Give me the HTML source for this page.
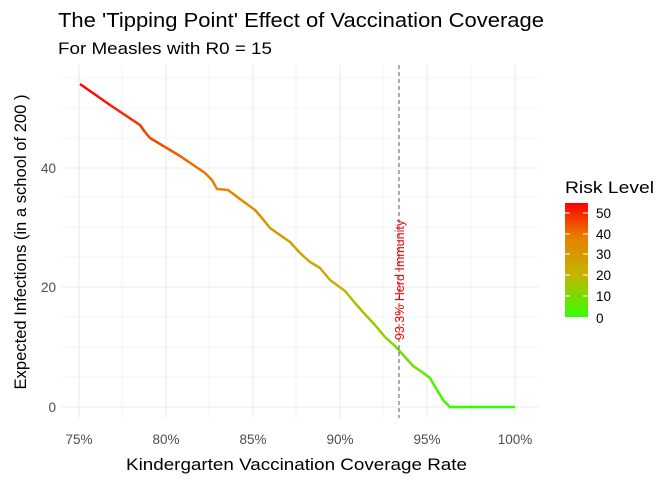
<!DOCTYPE html>
<html><head><style>body{margin:0;background:#fff}</style></head><body>
<svg width="672" height="480" xmlns="http://www.w3.org/2000/svg" font-family="Liberation Sans, sans-serif">
<defs>
<linearGradient id="g" gradientUnits="userSpaceOnUse" x1="0" y1="84" x2="0" y2="407">
<stop offset="0" stop-color="#ff0000"/><stop offset="0.3" stop-color="#e88000"/><stop offset="0.63" stop-color="#c4b400"/><stop offset="1" stop-color="#33ff00"/>
</linearGradient>
<linearGradient id="lg" x1="0" y1="0" x2="0" y2="1">
<stop offset="0" stop-color="#ff0000"/><stop offset="0.3" stop-color="#e88000"/><stop offset="0.63" stop-color="#c4b400"/><stop offset="1" stop-color="#33ff00"/>
</linearGradient>
</defs>
<g stroke="#ebebeb" stroke-width="0.6">
<line x1="62" x2="538" y1="377" y2="377"/><line x1="62" x2="538" y1="347" y2="347"/><line x1="62" x2="538" y1="317" y2="317"/><line x1="62" x2="538" y1="257" y2="257"/><line x1="62" x2="538" y1="227" y2="227"/><line x1="62" x2="538" y1="197" y2="197"/><line x1="62" x2="538" y1="138" y2="138"/><line x1="62" x2="538" y1="108" y2="108"/><line x1="62" x2="538" y1="78" y2="78"/>
<line y1="65" y2="418" x1="122" x2="122"/><line y1="65" y2="418" x1="209" x2="209"/><line y1="65" y2="418" x1="296" x2="296"/><line y1="65" y2="418" x1="383" x2="383"/><line y1="65" y2="418" x1="471" x2="471"/>
</g>
<g stroke="#ebebeb" stroke-width="1.1">
<line x1="62" x2="538" y1="407" y2="407"/><line x1="62" x2="538" y1="287" y2="287"/><line x1="62" x2="538" y1="168" y2="168"/>
<line y1="65" y2="418" x1="79" x2="79"/><line y1="65" y2="418" x1="166" x2="166"/><line y1="65" y2="418" x1="253" x2="253"/><line y1="65" y2="418" x1="340" x2="340"/><line y1="65" y2="418" x1="427" x2="427"/><line y1="65" y2="418" x1="515" x2="515"/>
</g>
<polyline fill="none" stroke="url(#g)" stroke-width="2.5" stroke-linejoin="round" points="80,84 110,105 140,125 145,132 150,138 180,156 205,173 212,180 217,189 228,190 240,199 255,210 262,218 270,228 290,242 300,253 310,262 320,268 330,280 345,291 355,303 362,311 375,325 385,337 395,346 405,357 413,366 422,372 430,378 437,390 443,400 450,407 515,407"/>
<line x1="399" x2="399" y1="65" y2="418" stroke="#333" stroke-width="0.8" stroke-dasharray="4,3"/>
<text transform="translate(404,280) rotate(-90)" text-anchor="middle" font-size="12.5" fill="#ff0000">93.3% Herd Immunity</text>
<g font-size="13.5" fill="#4d4d4d" text-anchor="end">
<text x="56" y="412">0</text><text x="56" y="292">20</text><text x="56" y="173">40</text></g>
<g font-size="13.5" fill="#4d4d4d" text-anchor="middle">
<text x="79" y="444">75%</text><text x="166" y="444">80%</text><text x="253" y="444">85%</text><text x="340" y="444">90%</text><text x="427" y="444">95%</text><text x="515" y="444">100%</text></g>
<text x="126" y="470" font-size="17" textLength="341" lengthAdjust="spacingAndGlyphs">Kindergarten Vaccination Coverage Rate</text>
<text transform="translate(26,242) rotate(-90)" font-size="17" text-anchor="middle" textLength="295" lengthAdjust="spacingAndGlyphs">Expected Infections (in a school of 200 )</text>
<text x="58" y="27" font-size="20" textLength="486" lengthAdjust="spacingAndGlyphs">The 'Tipping Point' Effect of Vaccination Coverage</text>
<text x="58" y="54" font-size="17" textLength="214" lengthAdjust="spacingAndGlyphs">For Measles with R0 = 15</text>
<text x="565" y="193" font-size="17" textLength="89" lengthAdjust="spacingAndGlyphs">Risk Level</text>
<rect x="565" y="203" width="23" height="114" fill="url(#lg)"/>
<g stroke="#fff" stroke-width="1"><line x1="565" x2="570" y1="213" y2="213"/><line x1="583" x2="588" y1="213" y2="213"/><line x1="565" x2="570" y1="234" y2="234"/><line x1="583" x2="588" y1="234" y2="234"/><line x1="565" x2="570" y1="254" y2="254"/><line x1="583" x2="588" y1="254" y2="254"/><line x1="565" x2="570" y1="275" y2="275"/><line x1="583" x2="588" y1="275" y2="275"/><line x1="565" x2="570" y1="296" y2="296"/><line x1="583" x2="588" y1="296" y2="296"/></g>
<g font-size="13.5" fill="#000"><text x="596" y="218">50</text><text x="596" y="239">40</text><text x="596" y="259">30</text><text x="596" y="280">20</text><text x="596" y="301">10</text><text x="596" y="323">0</text></g>
</svg>
</body></html>
